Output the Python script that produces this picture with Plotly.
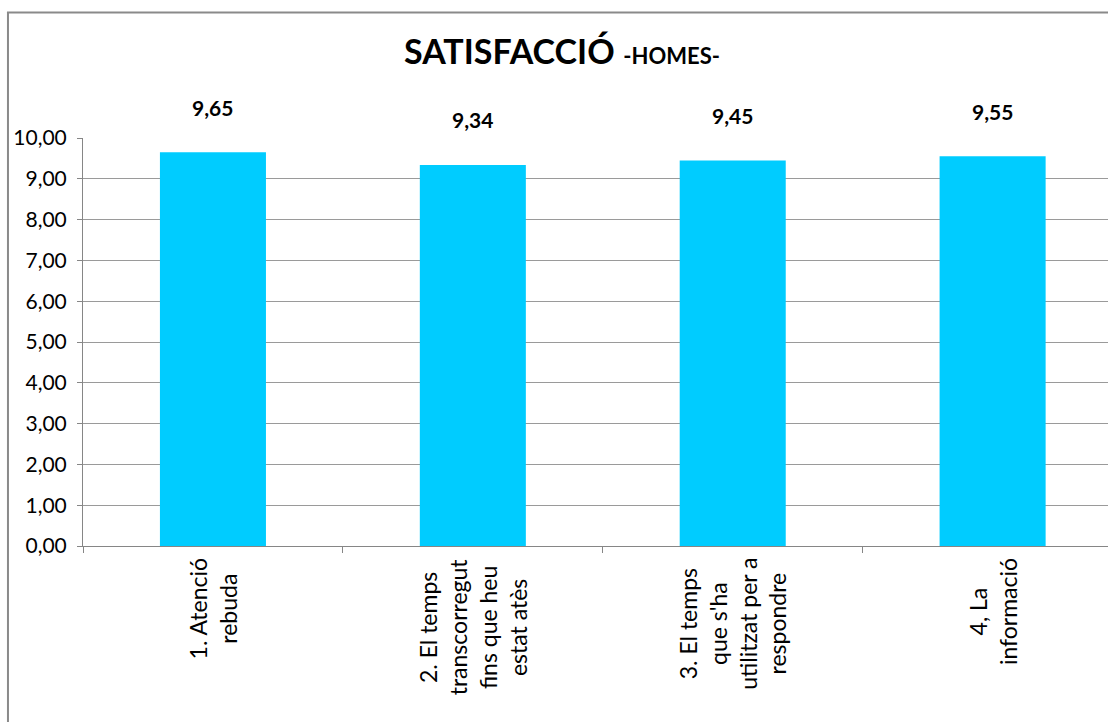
import plotly.graph_objects as go

# Survey satisfaction scores (men), scale 0-10
categories = [
    "1. Atenció<br>rebuda",
    "2. El temps<br>transcorregut<br>fins que heu<br>estat atès",
    "3. El temps<br>que s'ha<br>utilitzat per a<br>respondre",
    "4, La<br>informació",
]
scores = [9.65, 9.34, 9.45, 9.55]
y_ticks = [0, 1, 2, 3, 4, 5, 6, 7, 8, 9, 10]

FONT = "Lato, 'Open Sans', sans-serif"
BAR_COLOR = "#00CCFF"
GRID = "#9a9a9a"
AXIS = "#868686"

x_idx = list(range(len(categories)))

fig = go.Figure()
fig.add_trace(go.Bar(
    x=x_idx,
    y=scores,
    marker=dict(color=BAR_COLOR, line=dict(width=0)),
    hoverinfo="skip",
))

# value labels above each bar
for i, v in zip(x_idx, scores):
    fig.add_annotation(
        x=i, y=v, xref="x", yref="y",
        text="<b>" + f"{v:.2f}".replace(".", ",") + "</b>",
        showarrow=False, yanchor="middle", yshift=45,
        font=dict(family=FONT, size=21, color="#000000"),
    )

# rotated, centred category labels below the axis
for i, c in zip(x_idx, categories):
    fig.add_annotation(
        x=i, y=0, xref="x", yref="paper",
        text=c, textangle=-90, align="center",
        showarrow=False, xanchor="center", yanchor="top", yshift=-10,
        font=dict(family=FONT, size=23, color="#000000"),
    )

# chart title
fig.add_annotation(
    x=0.467, y=1.215, xref="paper", yref="paper",
    text="<b>SATISFACCIÓ</b> <b><span style='font-size:22px'>-HOMES-</span></b>",
    showarrow=False, xanchor="center", yanchor="middle",
    font=dict(family=FONT, size=34, color="#000000"),
)

# outer chart frame (left and top edges)
frame = dict(color="#8a8a8a", width=2)
fig.add_shape(type="line", xref="paper", yref="paper",
              x0=-0.0732, x1=-0.0732, y0=1.3076, y1=-0.5, line=frame)
fig.add_shape(type="line", xref="paper", yref="paper",
              x0=-0.0742, x1=1.2, y0=1.3076, y1=1.3076, line=frame)

fig.update_layout(
    width=1108, height=722,
    margin=dict(l=83, r=0, t=138, b=176, pad=0),
    paper_bgcolor="white", plot_bgcolor="white",
    bargap=0.592, showlegend=False,
    separators=", ",
    font=dict(family=FONT, size=21, color="#000000"),
)
fig.update_xaxes(
    type="linear", range=[-0.5, 3.444],
    showticklabels=False, showgrid=False, zeroline=False,
    showline=True, linecolor=AXIS, linewidth=1,
    tickmode="array", tickvals=[-0.5, 0.5, 1.5, 2.5, 3.5],
    ticks="outside", ticklen=6, tickcolor=AXIS, tickwidth=1,
)
fig.update_yaxes(
    range=[0, 10], tickmode="array", tickvals=y_ticks, tickformat=".2f",
    showgrid=True, gridcolor=GRID, gridwidth=1, zeroline=False,
    showline=True, linecolor=AXIS, linewidth=1,
    ticks="outside", ticklen=5, tickcolor=AXIS, tickwidth=1,
    ticklabelstandoff=6,
    tickfont=dict(family=FONT, size=21, color="#000000"),
)

fig.write_html("out.html")
